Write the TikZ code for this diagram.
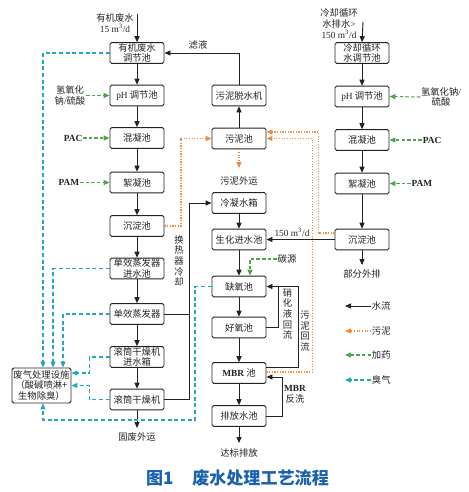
\documentclass[tikz,border=0pt]{standalone}
\usepackage{fontspec}
\setmainfont{Liberation Serif}
\newfontfamily\cjk{Noto Sans CJK SC}
\usetikzlibrary{arrows.meta}
\definecolor{ink}{HTML}{222222}
\definecolor{sl}{HTML}{F08A3C}
\definecolor{dg}{HTML}{4FA54A}
\definecolor{gs}{HTML}{22A9B5}
\definecolor{tb}{HTML}{1A62AE}
\newcommand\fs{\cjk\fontsize{7}{7.9}\selectfont}
\newcommand\fsv{\cjk\fontsize{7}{8}\selectfont}
\newcommand\la{\rmfamily}
\tikzset{
  bx/.style={draw=ink, line width=0.7pt, rounded corners=1.2pt, minimum width=40.5pt,
    minimum height=15.5pt, inner sep=0.5pt, align=center, font=\fs, text=ink},
  lbl/.style={inner sep=0.5pt, align=center, font=\fs, text=ink},
  vlbl/.style={inner sep=0.5pt, align=center, font=\fsv, text=ink},
  tip/.style={-{Triangle[length=4.5pt,width=3.8pt]}},
  flow/.style={draw=ink, line width=0.7pt, tip},
  ln/.style={draw=ink, line width=0.7pt},
  sludge/.style={draw=sl, line width=0.8pt, dash pattern=on 0.8pt off 1.2pt, tip},
  dose/.style={draw=dg, line width=0.8pt, dash pattern=on 2.6pt off 1.6pt, tip},
  gas/.style={draw=gs, line width=0.8pt, dash pattern=on 3pt off 2pt, tip}
}
\begin{document}
\begin{tikzpicture}[x=0.75pt,y=-0.75pt]
\useasboundingbox (0,0) rectangle (468,492);

% left column
\node[bx] (a1) at (137,53) {有机废水\\调节池};
\node[bx] (a2) at (137,95.5) {{\la pH} 调节池};
\node[bx] (a3) at (137,138) {混凝池};
\node[bx] (a4) at (137,182.5) {絮凝池};
\node[bx] (a5) at (137,226) {沉淀池};
\node[bx] (a6) at (137,268.5) {单效蒸发器\\进水池};
\node[bx] (a7) at (137,314) {单效蒸发器};
\node[bx] (a8) at (137,357) {滚筒干燥机\\进水箱};
\node[bx] (a9) at (137,399.5) {滚筒干燥机};

% middle column
\node[bx] (m1) at (239,95.5) {污泥脱水机};
\node[bx] (m2) at (239,138.5) {污泥池};
\node[bx] (m3) at (239,203) {冷凝水箱};
\node[bx] (m4) at (239,239.5) {生化进水池};
\node[bx] (m5) at (239,286.5) {缺氧池};
\node[bx] (m6) at (239,327.5) {好氧池};
\node[bx] (m7) at (239,373) {{\la\bfseries MBR} 池};
\node[bx] (m8) at (239,416) {排放水池};

% right column
\node[bx] (r1) at (362,53) {冷却循环\\水调节池};
\node[bx] (r2) at (362,96.5) {{\la pH} 调节池};
\node[bx] (r3) at (362,140) {混凝池};
\node[bx] (r4) at (362,183.5) {絮凝池};
\node[bx] (r5) at (362,239.5) {沉淀池};

% gas treatment
\node[bx, minimum width=44.25pt, minimum height=26.25pt] (g) at (41.5,385.5) {废气处理设施\\（酸碱喷淋+\\生物除臭）};

% inputs
\node[lbl] (in1) at (115,23) {有机废水\\{\la 15 m\textsuperscript{3}/d}};
\coordinate (s0) at (137,14);
\draw[flow] (s0) -- (a1.north);
\node[vlbl] (in2) at (339,23.5) {冷却循环\\水排水{\la >}\\{\la 150 m\textsuperscript{3}/d}};
\coordinate (s1) at (363,22);
\draw[flow] (s1) -- (r1.north);

% left chain
\draw[flow] (a1) -- (a2);
\draw[flow] (a2) -- (a3);
\draw[flow] (a3) -- (a4);
\draw[flow] (a4) -- (a5);
\draw[flow] (a5) -- (a6);
\draw[flow] (a6) -- (a7);
\draw[flow] (a7) -- (a8);
\draw[flow] (a8) -- (a9);
\coordinate (e1) at (137,428);
\draw[flow] (a9) -- (e1);
\node[lbl] (t1) at (137,437) {固废外运};

% middle chain
\draw[flow] (m2) -- (m1);
\draw[flow] (m1.north) |- (a1.east);
\node[lbl] (t2) at (198,45) {滤液};
\draw[flow] (m3) -- (m4);
\draw[flow] (m4) -- (m5);
\draw[flow] (m5) -- (m6);
\draw[flow] (m6) -- (m7);
\draw[flow] (m7) -- (m8);
\coordinate (e2) at (239,443);
\draw[flow] (m8) -- (e2);
\node[lbl] (t3) at (239,453) {达标排放};

% right chain
\draw[flow] (r1) -- (r2);
\draw[flow] (r2) -- (r3);
\draw[flow] (r3) -- (r4);
\draw[flow] (r4) -- (r5);
\coordinate (e3) at (362,265);
\draw[flow] (r5) -- (e3);
\node[lbl] (t4) at (362,274) {部分外排};
\draw[flow] (r5.west) -- (m4.east);
\node[lbl] (t5) at (292,232) {\la 150 m\textsuperscript{3}/d};

% heat exchanger cooling
\coordinate (h1) at (189,203);
\draw[flow] (a9.east) -| (h1) -- (m3.west);
\draw[ln] (a7.east) -- (a7.east -| h1);
\node[vlbl] (t6) at (179,261) {换\\热\\器\\冷\\却};

% returns
\coordinate (k1) at (298,286.5);
\coordinate (k2) at (278,286.5);
\draw[flow] ([yshift=4.5pt]m7.east) -| (k1) -- (m5.east);
\draw[ln] (m6.east) -| (k2);
\node[vlbl] (t7) at (287.5,314) {硝\\化\\液\\回\\流};
\node[vlbl] (t8) at (305,331) {污\\泥\\回\\流};
\coordinate (b1) at (282,377);
\draw[flow] (m8.east) -| (b1) -- (b1 -| m7.east);
\node[vlbl] (t9) at (295,394) {{\la\bfseries MBR}\\反洗};

% sludge
\coordinate (u1) at (181,138.5);
\draw[sludge] (a5.east) -| (u1) -- (m2.west);
\coordinate (e4) at (239,168);
\draw[sludge] (m2) -- (e4);
\node[lbl] (t10) at (239,181) {污泥外运};
\coordinate (u2) at (318.5,132);
\draw[sludge] ([yshift=4.9pt]r5.west) -| (u2) -- (u2 -| m2.east);
\coordinate (u3) at (312.5,138.5);
\draw[sludge] ([yshift=0.75pt]m7.east) -| (u3) -- (m2.east);

% dosing
\node[lbl] (d1) at (70,95.5) {氢氧化\\钠{\la /}硫酸};
\draw[dose] (d1.east) -- (a2.west);
\node[lbl] (d2) at (73,138) {\la\bfseries PAC};
\draw[dose] (d2.east) -- (a3.west);
\node[lbl] (d3) at (69,182.5) {\la\bfseries PAM};
\draw[dose] (d3.east) -- (a4.west);
\node[lbl] (d4) at (441,97) {氢氧化钠{\la /}\\硫酸};
\draw[dose] (d4.west) -- (r2.east);
\node[lbl] (d5) at (432,140) {\la\bfseries PAC};
\draw[dose] (d5.west) -- (r3.east);
\node[lbl] (d6) at (422,183.5) {\la\bfseries PAM};
\draw[dose] (d6.west) -- (r4.east);
\node[lbl] (d7) at (287,259) {碳源};
\coordinate (c2) at (250,259);
\draw[dose] (d7.west) -- (c2) -- (c2 |- m5.north);

% off-gas
\draw[gas] (a1.west) -| ([xshift=1.1pt]g.north);
\draw[gas] (a6.west) -| ([xshift=8.6pt]g.north);
\draw[gas] (a7.west) -| ([xshift=16.1pt]g.north);
\draw[gas] (a8.west) -- ++(-20,0) |- ([yshift=9.4pt]g.east);
\draw[gas] (a9.west) -- ++(-20,0) |- (g.east);
\coordinate (q2) at (195,420);
\draw[gas] (m5.west) -| (q2) -| ([xshift=1.1pt]g.south);

% legend
\node[lbl, anchor=west] (l1) at (371,306) {水流};
\node[lbl, anchor=west] (l2) at (371,331) {污泥};
\node[lbl, anchor=west] (l3) at (371,355) {加药};
\node[lbl, anchor=west] (l4) at (371,380) {臭气};
\coordinate (v1) at (345,306);
\coordinate (v2) at (345,331);
\coordinate (v3) at (345,355);
\coordinate (v4) at (345,380);
\draw[flow] (l1.west) -- (v1);
\draw[sludge] (l2.west) -- (v2);
\draw[dose] (l3.west) -- (v3);
\draw[gas] (l4.west) -- (v4);

% title
\node[inner sep=0pt, text=tb, font=\cjk\bfseries\fontsize{12.8}{14}\selectfont] (title) at (237.5,478) {图{\cjk 1}\hspace{14pt}废水处理工艺流程};
\end{tikzpicture}
\end{document}
